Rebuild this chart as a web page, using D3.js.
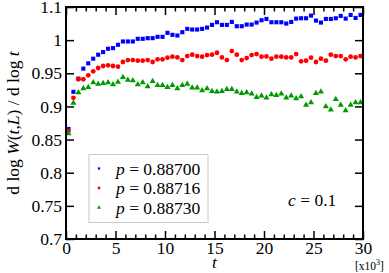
<!DOCTYPE html>
<html lang="en">
<head>
<meta charset="UTF-8">
<title>d log W / d log t</title>
<style>
  body { margin: 0; background: #fff; }
  text { font-family: "Liberation Serif", "DejaVu Serif", serif; fill: #000; }
</style>
</head>
<body>
<script src="https://d3js.org/d3.v7.min.js"></script>
<script>
// t in units of 10^3
const tValues = d3.range(60).map(k => 0.25 + 0.5 * k);

const p88700 = [0.866, 0.922, 0.942, 0.957, 0.965, 0.972, 0.978, 0.982, 0.987, 0.988,
                0.993, 0.998, 0.998, 0.998, 1.002, 1.002, 1.003, 1.003, 1.005, 1.005,
                1.011, 1.008, 1.007, 1.012, 1.017, 1.016, 1.016, 1.017, 1.019, 1.023,
                1.027, 1.023, 1.023, 1.0275, 1.021, 1.021, 1.0235, 1.0235, 1.0265, 1.030,
                1.032, 1.027, 1.027, 1.027, 1.025, 1.0275, 1.0325, 1.033, 1.033, 1.037,
                1.0295, 1.0265, 1.032, 1.032, 1.033, 1.0365, 1.0325, 1.038, 1.0335, 1.038];

const p88716 = [0.863, 0.913, 0.941, 0.941, 0.947, 0.953, 0.958, 0.961, 0.962, 0.961,
                0.960, 0.967, 0.970, 0.970, 0.969, 0.969, 0.970, 0.967, 0.971, 0.971,
                0.9735, 0.975, 0.974, 0.970, 0.976, 0.978, 0.976, 0.975, 0.9775, 0.978,
                0.981, 0.974, 0.970, 0.9835, 0.978, 0.970, 0.973, 0.9775, 0.979, 0.975,
                0.9755, 0.972, 0.975, 0.975, 0.974, 0.974, 0.979, 0.968, 0.969, 0.9735,
                0.967, 0.972, 0.969, 0.978, 0.976, 0.976, 0.971, 0.975, 0.974, 0.976];

const p88730 = [0.859, 0.905, 0.921, 0.927, 0.929, 0.936, 0.934, 0.935, 0.936, 0.933,
                0.937, 0.944, 0.940, 0.939, 0.933, 0.936, 0.930, 0.938, 0.932, 0.932,
                0.929, 0.932, 0.927, 0.932, 0.934, 0.928, 0.928, 0.924, 0.927, 0.923,
                0.922, 0.923, 0.926, 0.926, 0.922, 0.920, 0.921, 0.919, 0.914, 0.916,
                0.913, 0.918, 0.917, 0.919, 0.913, 0.916, 0.912, 0.915, 0.902, 0.906,
                0.920, 0.922, 0.900, 0.895, 0.911, 0.902, 0.894, 0.902, 0.906, 0.906];

const seriesNames = ["0.88700", "0.88716", "0.88730"];
const xTicks = [0, 5, 10, 15, 20, 25, 30];
const yTicks = [0.7, 0.75, 0.8, 0.85, 0.9, 0.95, 1.0, 1.05];
const yTickLabels = ["0.7", "0.75", "0.8", "0.85", "0.9", "0.95", "1", "1.1"];

const width = 389, height = 273;
const margin = {top: 7, right: 26, bottom: 34, left: 66};

const svg = d3.select("body").append("svg")
    .attr("width", width)
    .attr("height", height);

const x = d3.scaleLinear().domain([0, 30]).range([margin.left, width - margin.right]);
const y = d3.scaleLinear().domain([0.7, 1.05]).range([height - margin.bottom, margin.top]);

const series = [
  {name: seriesNames[0], values: p88700, color: "#0000ff", shape: d3.symbolSquare, size: 17, legendSize: 5},
  {name: seriesNames[1], values: p88716, color: "#ff0000", shape: d3.symbolCircle, size: 18, legendSize: 6},
  {name: seriesNames[2], values: p88730, color: "#009a00", shape: d3.symbolTriangle, size: 16, legendSize: 7}
];

// data points
series.forEach(s => {
  svg.append("g").selectAll("path")
    .data(s.values)
    .join("path")
      .attr("transform", (d, i) => `translate(${x(tValues[i])},${y(d)})`)
      .attr("d", d3.symbol().type(s.shape).size(s.size))
      .attr("fill", s.color);
});

// axes with inward ticks
const xMinor = d3.range(0, 31, 1).filter(v => v % 5 !== 0);
const tickStyle = g => g.selectAll("line").attr("stroke", "#000").attr("stroke-width", 1.5);

svg.append("g")
    .attr("transform", `translate(0,${y(0.7)})`)
    .call(d3.axisBottom(x).tickValues(xTicks).tickSize(-8).tickPadding(3).tickFormat(d3.format("d")))
    .call(g => g.select(".domain").remove())
    .call(tickStyle)
    .call(g => g.selectAll("text").attr("font-size", 17.5));

svg.append("g")
    .attr("transform", `translate(0,${y(0.7)})`)
    .call(d3.axisBottom(x).tickValues(xMinor).tickSize(-4.5).tickFormat(""))
    .call(g => g.select(".domain").remove())
    .call(tickStyle);

svg.append("g")
    .attr("transform", `translate(0,${y(1.05)})`)
    .call(d3.axisTop(x).tickValues(xTicks).tickSize(-8).tickFormat(""))
    .call(g => g.select(".domain").remove())
    .call(tickStyle);

svg.append("g")
    .attr("transform", `translate(0,${y(1.05)})`)
    .call(d3.axisTop(x).tickValues(xMinor).tickSize(-4.5).tickFormat(""))
    .call(g => g.select(".domain").remove())
    .call(tickStyle);

svg.append("g")
    .attr("transform", `translate(${x(0)},0)`)
    .call(d3.axisLeft(y).tickValues(yTicks).tickSize(-8).tickPadding(4)
      .tickFormat((d, i) => yTickLabels[i]))
    .call(g => g.select(".domain").remove())
    .call(tickStyle)
    .call(g => g.selectAll("text").attr("font-size", 17.5));

svg.append("g")
    .attr("transform", `translate(${x(30)},0)`)
    .call(d3.axisRight(y).tickValues(yTicks).tickSize(-8).tickFormat(""))
    .call(g => g.select(".domain").remove())
    .call(tickStyle);

// frame
svg.append("rect")
    .attr("x", x(0)).attr("y", y(1.05))
    .attr("width", x(30) - x(0)).attr("height", y(0.7) - y(1.05))
    .attr("fill", "none").attr("stroke", "#000").attr("stroke-width", 2);

// axis titles
svg.append("text")
    .attr("x", x(15)).attr("y", 268)
    .attr("text-anchor", "middle").attr("font-size", 17.5)
    .attr("font-style", "italic").text("t");

const unit = svg.append("text")
    .attr("x", 355).attr("y", 270).attr("font-size", 11.5);
unit.append("tspan").text("[x10");
unit.append("tspan").attr("dy", -5).attr("font-size", 8).text("3");
unit.append("tspan").attr("dy", 5).text("]");

const yt = svg.append("text")
    .attr("transform", `translate(19,${(y(0.7) + y(1.05)) / 2}) rotate(-90)`)
    .attr("text-anchor", "middle").attr("font-size", 17.5);
yt.append("tspan").text("d log ");
yt.append("tspan").attr("font-style", "italic").text("W");
yt.append("tspan").text("(");
yt.append("tspan").attr("font-style", "italic").text("t");
yt.append("tspan").text(",");
yt.append("tspan").attr("font-style", "italic").text("L");
yt.append("tspan").text(") / d log ");
yt.append("tspan").attr("font-style", "italic").text("t");

// legend
const legend = svg.append("g");
legend.append("rect")
    .attr("x", 89).attr("y", 154.5).attr("width", 119).attr("height", 68)
    .attr("fill", "#fff").attr("stroke", "#c8c8c8").attr("stroke-width", 1);

series.forEach((s, i) => {
  const cy = 168.5 + i * 19.5;
  legend.append("path")
      .attr("transform", `translate(99,${cy})`)
      .attr("d", d3.symbol().type(s.shape).size(s.legendSize))
      .attr("fill", s.color);
  const t = legend.append("text")
      .attr("x", 116).attr("y", cy + 6).attr("font-size", 17.5);
  t.append("tspan").attr("font-style", "italic").text("p");
  t.append("tspan").text(" = " + s.name);
});

const ctext = svg.append("text")
    .attr("x", 288).attr("y", 206).attr("font-size", 17.5);
ctext.append("tspan").attr("font-style", "italic").text("c");
ctext.append("tspan").text(" = 0.1");
</script>
</body>
</html>
